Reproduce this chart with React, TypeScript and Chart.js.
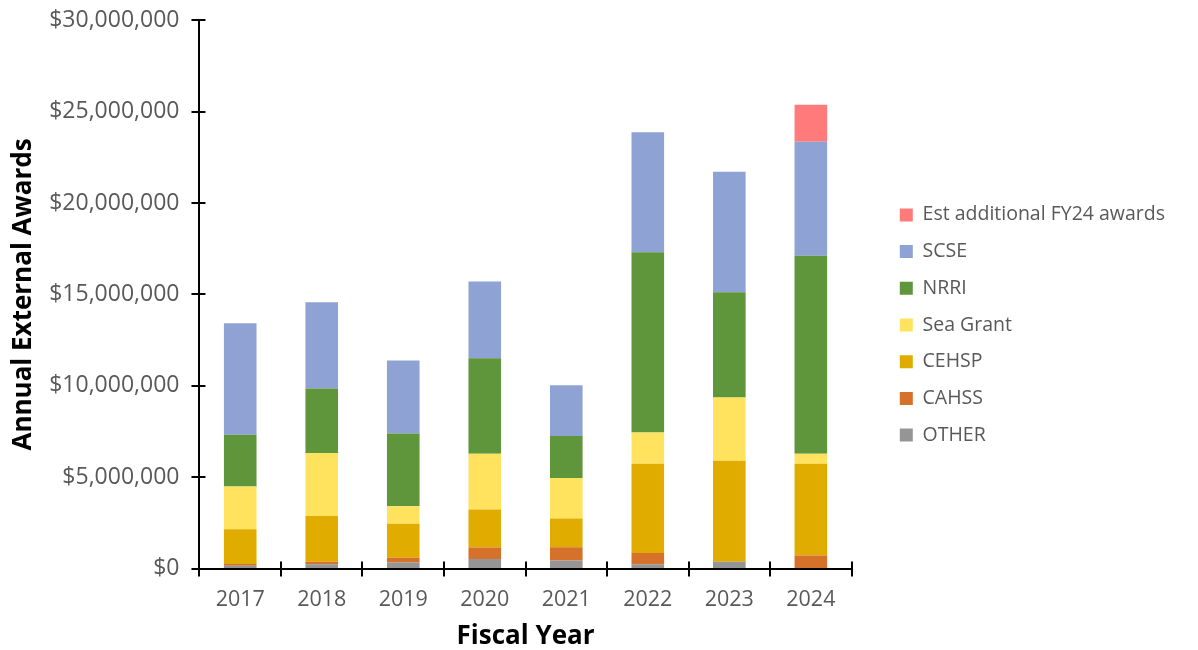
import React, { useEffect, useRef } from "react";
import { Chart, registerables } from "chart.js";

Chart.register(...registerables);

const years = ["2017", "2018", "2019", "2020", "2021", "2022", "2023", "2024"];
const other = [150000, 240000, 330000, 530000, 450000, 240000, 370000, 0];
const cahss = [100000, 130000, 260000, 620000, 720000, 620000, 0, 710000];
const cehsp = [1900000, 2510000, 1860000, 2080000, 1570000, 4870000, 5530000, 5020000];
const seaGrant = [2340000, 3450000, 960000, 3060000, 2220000, 1710000, 3460000, 560000];
const nrri = [2830000, 3520000, 3980000, 5220000, 2300000, 9870000, 5760000, 10830000];
const scse = [6110000, 4730000, 3990000, 4200000, 2770000, 6570000, 6600000, 6230000];
const estFY24 = [0, 0, 0, 0, 0, 0, 0, 2030000];
const yTicks = [0, 5000000, 10000000, 15000000, 20000000, 25000000, 30000000];

const FONT = "'Open Sans', sans-serif";
const GAP = 31;

const crossTicks = {
  id: "crossTicks",
  afterDraw(chart: any) {
    const { ctx, scales } = chart;
    const x = scales.x;
    const y = scales.y;
    ctx.save();
    ctx.strokeStyle = "#000";
    ctx.lineWidth = 2;
    const axisX = x.left;
    yTicks.forEach((v) => {
      const py = Math.round(y.getPixelForValue(v));
      ctx.beginPath();
      ctx.moveTo(axisX - 8, py);
      ctx.lineTo(axisX + 6, py);
      ctx.stroke();
    });
    const step = x.getPixelForValue(1) - x.getPixelForValue(0);
    const axisY = y.bottom;
    for (let i = 0; i <= years.length; i++) {
      const px = Math.round(x.getPixelForValue(i) - step / 2);
      ctx.beginPath();
      ctx.moveTo(px, axisY);
      ctx.lineTo(px, axisY - 7);
      ctx.stroke();
    }
    ctx.restore();
  },
};

// widens the legend box so that there is a gap between plot area and legend items
const legendGap = {
  id: "legendGap",
  beforeLayout(chart: any) {
    const lg = chart.legend;
    if (lg && !lg.__gapPatched) {
      const origFit = lg.fit.bind(lg);
      lg.fit = function () {
        origFit();
        this.width += GAP;
      };
      lg.__gapPatched = true;
    }
  },
  afterLayout(chart: any) {
    const lg = chart.legend;
    if (lg) {
      lg.left += GAP;
      lg.width -= GAP;
    }
  },
};

export default function App() {
  const ref = useRef<HTMLCanvasElement | null>(null);
  useEffect(() => {
    if (!ref.current) return;
    const mk = (label: string, data: number[], color: string) => ({
      label,
      data,
      backgroundColor: color,
      borderWidth: 0,
      barPercentage: 0.4,
      categoryPercentage: 1,
    });
    const chart = new Chart(ref.current, {
      type: "bar",
      data: {
        labels: years,
        datasets: [
          mk("OTHER", other, "#959595"),
          mk("CAHSS", cahss, "#D5712A"),
          mk("CEHSP", cehsp, "#E0AC00"),
          mk("Sea Grant", seaGrant, "#FFE35E"),
          mk("NRRI", nrri, "#5F953B"),
          mk("SCSE", scse, "#8FA2D4"),
          mk("Est additional FY24 awards", estFY24, "#FF7B7B"),
        ],
      },
      options: {
        animation: false,
        responsive: false,
        maintainAspectRatio: false,
        layout: { padding: { left: 4, right: 23, top: 0, bottom: 0 } },
        plugins: {
          tooltip: { enabled: false },
          legend: {
            position: "right",
            reverse: true,
            labels: {
              boxWidth: 13,
              boxHeight: 13,
              padding: 17.2,
              color: "#595959",
              font: { family: FONT, size: 19.5 },
            },
          },
        },
        scales: {
          x: {
            stacked: true,
            grid: {
              display: true,
              drawOnChartArea: false,
              drawTicks: true,
              tickLength: 8,
              color: "#000",
              lineWidth: 2,
            },
            border: { display: true, color: "#000", width: 2 },
            ticks: { color: "#595959", font: { family: FONT, size: 21.5 }, padding: 10.8 },
            title: {
              display: true,
              text: "Fiscal Year",
              color: "#000",
              font: { family: FONT, size: 26, weight: "bold", lineHeight: 1 },
              padding: { top: 0, bottom: 0 },
            },
          },
          y: {
            stacked: true,
            min: 0,
            max: 30000000,
            afterBuildTicks: (s: any) => {
              s.ticks = yTicks.map((v) => ({ value: v }));
            },
            grid: {
              display: true,
              drawOnChartArea: false,
              drawTicks: true,
              tickLength: 13.5,
              color: "rgba(0,0,0,0)",
            },
            border: { display: true, color: "#000", width: 2 },
            ticks: {
              color: "#595959",
              font: { family: FONT, size: 23 },
              padding: 6.5,
              callback: (v: any) => "$" + Number(v).toLocaleString("en-US"),
            },
            title: {
              display: true,
              text: "Annual External Awards",
              color: "#000",
              font: { family: FONT, size: 26, weight: "bold" },
              padding: { top: 4, bottom: 3.5 },
            },
          },
        },
      },
      plugins: [crossTicks, legendGap],
    });
    return () => chart.destroy();
  }, []);
  return (
    <div style={{ position: "fixed", left: 0, top: 0, width: 1198, height: 650, background: "#fff" }}>
      <canvas ref={ref} width={1198} height={650} style={{ width: 1198, height: 650 }} />
    </div>
  );
}
